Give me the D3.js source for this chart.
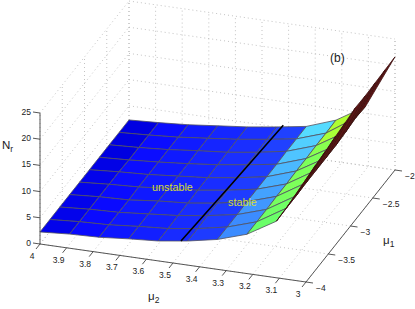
<!DOCTYPE html>
<html>
<head>
<meta charset="utf-8">
<script src="https://cdn.jsdelivr.net/npm/d3@7"></script>
<style>
  body { margin: 0; background: #fff; }
  text { font-family: "Liberation Sans", sans-serif; }
</style>
</head>
<body>
<div id="root"></div>
<script>
// DATA
const mu2Values = [4, 3.8889, 3.7778, 3.6667, 3.5556, 3.4444, 3.3333, 3.2222, 3.1111, 3];
const mu1Values = [-4, -3.7778, -3.5556, -3.3333, -3.1111, -2.8889, -2.6667, -2.4444, -2.2222, -2];
// one row per mu1, one column per mu2
const nrValues = [
  [2.3, 2.7, 2.9, 3.4, 3.8, 4.6, 5.7, 7.5, 10.8, 19.3],
  [2.3, 2.7, 2.9, 3.4, 3.8, 4.6, 5.7, 7.5, 10.9, 20.0],
  [2.3, 2.7, 2.9, 3.4, 3.9, 4.7, 5.7, 7.5, 10.9, 20.3],
  [2.3, 2.7, 2.9, 3.5, 3.9, 4.7, 5.8, 7.6, 11.0, 20.7],
  [2.3, 2.7, 3.0, 3.5, 4.0, 4.8, 5.8, 7.6, 11.0, 21.0],
  [2.3, 2.7, 3.0, 3.5, 4.0, 4.8, 5.8, 7.7, 11.0, 21.4],
  [2.3, 2.6, 3.0, 3.5, 4.1, 4.9, 5.8, 7.7, 11.0, 21.3],
  [2.3, 2.6, 3.0, 3.6, 4.1, 4.9, 5.9, 7.8, 11.2, 21.4],
  [2.3, 2.6, 3.0, 3.6, 4.2, 5.0, 5.9, 7.8, 11.5, 21.5],
  [2.3, 2.6, 3.0, 3.6, 4.2, 5.0, 5.9, 7.9, 11.3, 21.6]
];
const boundaryMu1 = [-4, -3, -2];
const boundaryMu2 = [3.47, 3.445, 3.42];
const boundaryNr = [4.4, 4.9, 5.5];

const mu2Ticks = [4, 3.9, 3.8, 3.7, 3.6, 3.5, 3.4, 3.3, 3.2, 3.1, 3];
const mu1Ticks = [-4, -3.5, -3, -2.5, -2];
const nrTicks = [0, 5, 10, 15, 20, 25];

// DIMENSIONS
const width = 415, height = 309;

// oblique projection of the axes box
const mu2X = d3.scaleLinear().domain([4, 3]).range([0, 266]);
const mu2Y = d3.scaleLinear().domain([4, 3]).range([0, 38]);
const mu1X = d3.scaleLinear().domain([-4, -2]).range([0, 89]);
const mu1Y = d3.scaleLinear().domain([-4, -2]).range([0, -112]);
const nrY = d3.scaleLinear().domain([0, 25]).range([0, -131]);

function project(m2, m1, n) {
  return [40 + mu2X(m2) + mu1X(m1), 244 + mu2Y(m2) + mu1Y(m1) + nrY(n)];
}

const colorScale = d3.scaleLinear()
  .domain([2.6, 2.9, 3.5, 4, 4.8, 5.8, 7.5, 7.9, 10.8, 11.4, 19, 21.6])
  .range(['#0000e1', '#0a0aff', '#0f19ff', '#1423ff', '#192dff', '#1e3cff',
          '#3c8cff', '#5ae6ff', '#64ff6e', '#afff32', '#7a1e1e', '#5a1414'])
  .clamp(true);

const line = d3.line();
const svg = d3.select('#root').append('svg')
  .attr('width', width)
  .attr('height', height)
  .style('display', 'block');

// Grid on the floor and the two back walls
const gridLines = [];
mu2Ticks.forEach(m => {
  gridLines.push([project(m, -4, 0), project(m, -2, 0)]);
  gridLines.push([project(m, -2, 0), project(m, -2, 25)]);
});
mu1Ticks.forEach(m => {
  gridLines.push([project(4, m, 0), project(3, m, 0)]);
  gridLines.push([project(4, m, 0), project(4, m, 25)]);
});
nrTicks.forEach(n => {
  gridLines.push([project(4, -4, n), project(4, -2, n)]);
  gridLines.push([project(4, -2, n), project(3, -2, n)]);
});
gridLines.push([project(3, -2, 0), project(3, -2, 25)]);

svg.append('g').selectAll('path')
  .data(gridLines)
  .enter()
  .append('path')
  .attr('d', d => line(d))
  .attr('fill', 'none')
  .attr('stroke', '#b4b4b4')
  .attr('stroke-width', 0.8)
  .attr('stroke-dasharray', '1,3');

// Surface cells, painted from the back row to the front row
const cells = [];
for (let r = mu1Values.length - 2; r >= 0; r--) {
  for (let c = 0; c < mu2Values.length - 1; c++) {
    cells.push({
      points: [
        project(mu2Values[c], mu1Values[r], nrValues[r][c]),
        project(mu2Values[c + 1], mu1Values[r], nrValues[r][c + 1]),
        project(mu2Values[c + 1], mu1Values[r + 1], nrValues[r + 1][c + 1]),
        project(mu2Values[c], mu1Values[r + 1], nrValues[r + 1][c])
      ],
      level: (nrValues[r][c + 1] + nrValues[r + 1][c + 1]) / 2
    });
  }
}

svg.append('g').selectAll('path')
  .data(cells)
  .enter()
  .append('path')
  .attr('d', d => line(d.points) + 'Z')
  .attr('fill', d => colorScale(d.level))
  .attr('stroke', d => d.level > 15 ? '#3c0f0f' : '#50505f') // the steep strip is nearly edge on
  .attr('stroke-width', 0.8)
  .attr('stroke-linejoin', 'round');

// Stability boundary
svg.append('path')
  .attr('d', line(boundaryMu1.map((m, i) => project(boundaryMu2[i], m, boundaryNr[i]))))
  .attr('fill', 'none')
  .attr('stroke', '#000')
  .attr('stroke-width', 1.6);

// Axis lines
const axisLines = [
  [project(4, -4, 0), project(4, -4, 25)],
  [project(4, -4, 0), project(3, -4, 0)],
  [project(3, -4, 0), project(3, -2, 0)]
];
svg.append('g').selectAll('path')
  .data(axisLines)
  .enter()
  .append('path')
  .attr('d', d => line(d))
  .attr('fill', 'none')
  .attr('stroke', '#444')
  .attr('stroke-width', 0.9);

// Ticks
const tickLines = [];
nrTicks.forEach(n => {
  const p = project(4, -4, n);
  tickLines.push([p, [p[0] - 7, p[1] - 1]]);
});
mu2Ticks.forEach(m => {
  const p = project(m, -4, 0);
  tickLines.push([p, [p[0] - 4, p[1] + 5]]);
});
mu1Ticks.forEach(m => {
  const p = project(3, m, 0);
  tickLines.push([p, [p[0] + 7, p[1] + 1]]);
});
svg.append('g').selectAll('path')
  .data(tickLines)
  .enter()
  .append('path')
  .attr('d', d => line(d))
  .attr('fill', 'none')
  .attr('stroke', '#444')
  .attr('stroke-width', 0.9);

// Tick labels
function tickText(sel) {
  sel.style('font-size', '8.5px').style('fill', '#222');
}
svg.append('g').selectAll('text')
  .data(nrTicks)
  .enter()
  .append('text')
  .attr('x', 31)
  .attr('y', d => project(4, -4, d)[1] + 2)
  .attr('text-anchor', 'end')
  .text(d => d)
  .call(tickText);

svg.append('g').selectAll('text')
  .data(mu2Ticks)
  .enter()
  .append('text')
  .attr('x', d => project(d, -4, 0)[0] - 8)
  .attr('y', d => project(d, -4, 0)[1] + 15)
  .attr('text-anchor', 'middle')
  .text(d => d)
  .call(tickText);

svg.append('g').selectAll('text')
  .data(mu1Ticks)
  .enter()
  .append('text')
  .attr('x', d => project(3, d, 0)[0] + 10)
  .attr('y', d => project(3, d, 0)[1] + 9)
  .text(d => String(d).replace('-', '\u2212'))
  .call(tickText);

// Axis labels
function subLabel(x, y, main, sub) {
  const t = svg.append('text').attr('x', x).attr('y', y).style('font-size', '11.5px').style('fill', '#222');
  t.append('tspan').text(main);
  t.append('tspan').attr('dy', 3).style('font-size', '8.5px').text(sub);
}
subLabel(2, 149, 'N', 'r');
subLabel(148, 300, '\u03bc', '2');
subLabel(383, 244, '\u03bc', '1');

svg.append('text')
  .attr('x', 330)
  .attr('y', 62)
  .style('font-size', '12px')
  .style('fill', '#222')
  .text('(b)');

svg.append('text')
  .attr('x', 152)
  .attr('y', 191)
  .style('font-size', '10.8px')
  .style('fill', '#d2dc3c')
  .text('unstable');

svg.append('text')
  .attr('x', 228)
  .attr('y', 206)
  .style('font-size', '10.8px')
  .style('fill', '#d2dc3c')
  .text('stable');
</script>
</body>
</html>
